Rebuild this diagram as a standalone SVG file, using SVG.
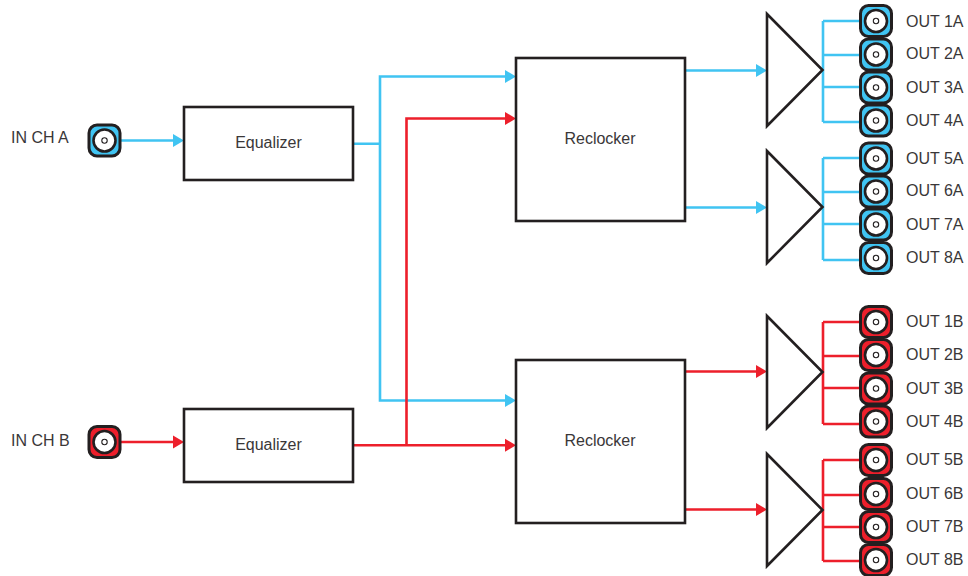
<svg xmlns="http://www.w3.org/2000/svg" width="968" height="576" viewBox="0 0 968 576">
<style>
text{font-family:"Liberation Sans",Arial,sans-serif;font-size:16px;fill:#3a3738}
.c{text-anchor:middle}
.box{fill:#fff;stroke:#231f20;stroke-width:2.6}
.w{fill:none;stroke-width:2.6}
.b{stroke:#40c4f2}
.r{stroke:#ed1f2b}
.ha{fill:#40c4f2}
.hr{fill:#ed1f2b}
.shell{stroke:#231f20;stroke-width:3}
.ring{fill:#fff;stroke:#231f20;stroke-width:2.6}
.pin{fill:#fff;stroke:#231f20;stroke-width:1.1}
</style>
<defs>
<g id="ca"><rect x="-15.500" y="-15.500" width="31" height="31" rx="8" class="shell ha"/><circle r="11" class="ring"/><circle r="2.700" class="pin"/></g>
<g id="cb"><rect x="-15.500" y="-15.500" width="31" height="31" rx="8" class="shell hr"/><circle r="11" class="ring"/><circle r="2.700" class="pin"/></g>
<path id="tip" d="M-11,-6.500L0,0L-11,6.500Z"/>
</defs>
<g id="connectors">
<path class="w b" d="M120,140.500H175M353,143.700H380M507,76.500H380V400.500H507M685,70.500H757M685,207.500H757"/>
<path class="w r" d="M120,442H175M353,445.300H507M406.500,445.300V118.500H507M685,371.500H757M685,509.500H757"/>
<path class="w b" d="M823,21H860M823,55H860M823,87H860M823,122H860M823,21V122M823,158H860M823,192H860M823,224H860M823,260H860M823,158V260"/>
<path class="w r" d="M823,322H860M823,356H860M823,388H860M823,424H860M823,322V424M823,460H860M823,495H860M823,527H860M823,561H860M823,460V561"/>
<g class="ha"><use href="#tip" x="184" y="140.500"/><use href="#tip" x="516" y="76.500"/><use href="#tip" x="516" y="400.500"/><use href="#tip" x="767" y="70.500"/><use href="#tip" x="767" y="207.500"/></g>
<g class="hr"><use href="#tip" x="184" y="442"/><use href="#tip" x="516" y="118.500"/><use href="#tip" x="516" y="445.300"/><use href="#tip" x="767" y="371.500"/><use href="#tip" x="767" y="509.500"/></g>
</g>
<g id="in-a"><use href="#ca" x="104.500" y="140.500"/><text x="11" y="143">IN CH A</text></g>
<g id="in-b"><use href="#cb" x="104.500" y="442"/><text x="11" y="446">IN CH B</text></g>
<g id="eq-a"><rect class="box" x="184" y="107" width="169" height="73"/><text class="c" x="268.500" y="148">Equalizer</text></g>
<g id="eq-b"><rect class="box" x="184" y="409" width="169" height="73"/><text class="c" x="268.500" y="450">Equalizer</text></g>
<g id="rc-a"><rect class="box" x="516" y="58" width="169" height="163"/><text class="c" x="600" y="144">Reclocker</text></g>
<g id="rc-b"><rect class="box" x="516" y="360" width="169" height="163"/><text class="c" x="600" y="446">Reclocker</text></g>
<g id="amp-1a"><path class="box" d="M767,14L822.500,70L767,126Z"/></g>
<g id="amp-2a"><path class="box" d="M767,151L822.500,207L767,263Z"/></g>
<g id="amp-1b"><path class="box" d="M767,316L822.500,372L767,428Z"/></g>
<g id="amp-2b"><path class="box" d="M767,454L822.500,510L767,566Z"/></g>
<g id="out-1a"><use href="#ca" x="876" y="21"/><text x="906" y="27">OUT 1A</text></g>
<g id="out-2a"><use href="#ca" x="876" y="54.500"/><text x="906" y="59">OUT 2A</text></g>
<g id="out-3a"><use href="#ca" x="876" y="87.500"/><text x="906" y="93">OUT 3A</text></g>
<g id="out-4a"><use href="#ca" x="876" y="120.500"/><text x="906" y="126">OUT 4A</text></g>
<g id="out-5a"><use href="#ca" x="876" y="158.500"/><text x="906" y="164">OUT 5A</text></g>
<g id="out-6a"><use href="#ca" x="876" y="191.500"/><text x="906" y="196">OUT 6A</text></g>
<g id="out-7a"><use href="#ca" x="876" y="224.500"/><text x="906" y="230">OUT 7A</text></g>
<g id="out-8a"><use href="#ca" x="876" y="258"/><text x="906" y="263">OUT 8A</text></g>
<g id="out-1b"><use href="#cb" x="876" y="322"/><text x="906" y="327">OUT 1B</text></g>
<g id="out-2b"><use href="#cb" x="876" y="355"/><text x="906" y="360">OUT 2B</text></g>
<g id="out-3b"><use href="#cb" x="876" y="388.500"/><text x="906" y="394">OUT 3B</text></g>
<g id="out-4b"><use href="#cb" x="876" y="421.500"/><text x="906" y="427">OUT 4B</text></g>
<g id="out-5b"><use href="#cb" x="876" y="460"/><text x="906" y="465">OUT 5B</text></g>
<g id="out-6b"><use href="#cb" x="876" y="494"/><text x="906" y="499">OUT 6B</text></g>
<g id="out-7b"><use href="#cb" x="876" y="527"/><text x="906" y="532">OUT 7B</text></g>
<g id="out-8b"><use href="#cb" x="876" y="560"/><text x="906" y="565">OUT 8B</text></g>
</svg>
